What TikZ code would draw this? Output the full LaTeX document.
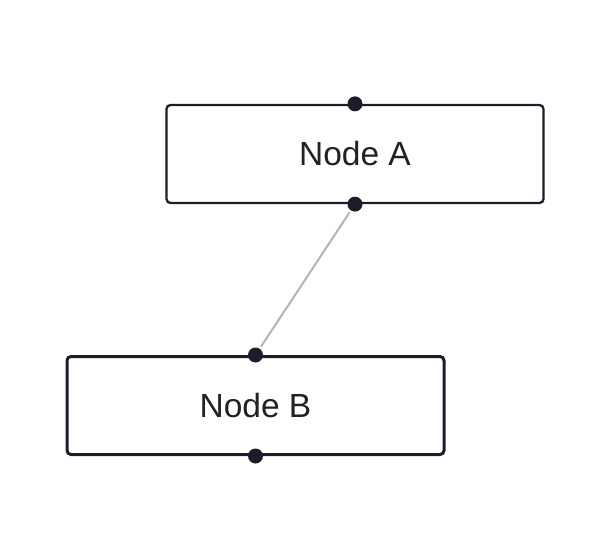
\documentclass[tikz,border=0pt]{standalone}
\usepackage{xcolor}
\usepackage{fontspec}
\setmainfont{Liberation Sans}
\usetikzlibrary{positioning}
\definecolor{inkdark}{HTML}{1C1C2B}
\definecolor{linkgray}{HTML}{B4B4B4}
\definecolor{labeltext}{HTML}{222222}
\tikzset{
  box/.style={draw=inkdark, rounded corners=4pt, minimum width=377pt, minimum height=98pt,
              font=\fontsize{33.5}{38}\selectfont, text=labeltext},
  port/.style={circle, fill=inkdark, inner sep=0pt, minimum size=15pt},
  link/.style={draw=linkgray, line width=2pt, shorten >=2pt, shorten <=2pt}
}

\begin{document}
\begin{tikzpicture}[x=1pt, y=-1pt]
    \useasboundingbox (0,0) rectangle (594,540);
    \node[box, line width=2.3pt] (nodeA) at (355,154) {Node A};
    \node[box, line width=3pt] (nodeB) at (255.5,405.5) {Node B};
    % ports on each box
    \node[port] (aTop) at (nodeA.north) {};
    \node[port] (aBot) at (nodeA.south) {};
    \node[port] (bTop) at (nodeB.north) {};
    \node[port] (bBot) at (nodeB.south) {};
    \draw[link] (aBot) -- (bTop);
  \end{tikzpicture}
\end{document}
